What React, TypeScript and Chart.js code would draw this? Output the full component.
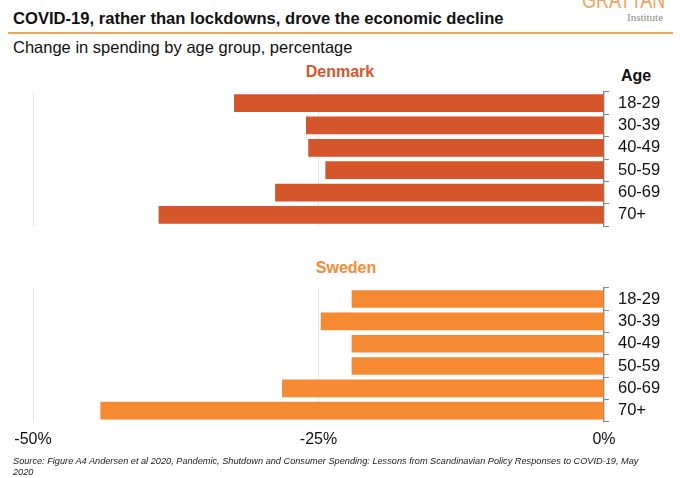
import React, { useEffect, useRef } from "react";
import { Chart, registerables } from "chart.js";

Chart.register(...registerables);

const ageGroups = ["18-29", "30-39", "40-49", "50-59", "60-69", "70+"];
const denmarkValues = [-32.4, -26.1, -25.9, -24.4, -28.8, -39.0];
const swedenValues = [-22.1, -24.8, -22.1, -22.1, -28.2, -44.1];
const xTickValues = [-50, -25, 0];

const DENMARK_COLOR = "#D4562A";
const SWEDEN_COLOR = "#F58A33";
const FONT = "Liberation Sans, Arial, sans-serif";

function makeConfig(color: string, values: number[], showX: boolean) {
  return {
    type: "bar",
    data: {
      labels: ageGroups,
      datasets: [
        {
          data: values,
          backgroundColor: color,
          borderWidth: 0,
          barPercentage: 0.79,
          categoryPercentage: 1,
        },
      ],
    },
    options: {
      indexAxis: "y",
      animation: false,
      responsive: false,
      maintainAspectRatio: false,
      layout: { padding: { left: 33, right: 0, top: 0, bottom: 0 } },
      plugins: {
        legend: { display: false },
        tooltip: { enabled: false },
        title: { display: false },
      },
      scales: {
        x: {
          min: -50,
          max: 0,
          afterBuildTicks: (scale: any) => {
            scale.ticks = xTickValues.map((v) => ({ value: v }));
          },
          afterFit: showX ? undefined : (scale: any) => { scale.height = 0; },
          border: { display: false },
          grid: {
            color: "#e6e6e6",
            lineWidth: 1,
            drawTicks: false,
          },
          ticks: {
            display: showX,
            color: "#111",
            padding: 8,
            font: { family: FONT, size: 16 },
            callback: (v: any) => `${v}%`,
            maxRotation: 0,
            autoSkip: false,
          },
        },
        y: {
          position: "right",
          afterFit: (scale: any) => { scale.width = 76; },
          border: { display: true, color: "#7d8696", width: 1.2 },
          grid: {
            offset: true,
            drawOnChartArea: false,
            drawTicks: true,
            tickLength: 5,
            color: "#7d8696",
          },
          ticks: {
            color: "#111",
            padding: 9,
            autoSkip: false,
            font: { family: FONT, size: 16.5 },
          },
        },
      },
    },
  } as any;
}

function BarPanel(props: { color: string; values: number[]; showX: boolean; width: number; height: number }) {
  const ref = useRef<HTMLCanvasElement | null>(null);
  useEffect(() => {
    if (!ref.current) return;
    const chart = new Chart(ref.current, makeConfig(props.color, props.values, props.showX));
    return () => chart.destroy();
  }, []);
  return <canvas ref={ref} width={props.width} height={props.height} style={{ width: props.width, height: props.height, display: "block" }} />;
}

export default function App() {
  return (
    <div style={{ position: "absolute", left: 0, top: 0, width: 680, height: 478, background: "#fff", overflow: "hidden", fontFamily: FONT }}>
      <div style={{ position: "absolute", left: 582, top: -12, fontSize: 24, color: "#F4A261", lineHeight: "24px", transform: "scaleX(0.75)", transformOrigin: "left top", whiteSpace: "nowrap" }}>GRATTAN</div>
      <div style={{ position: "absolute", left: 627, top: 11, fontSize: 11, color: "#8a8a8a", fontFamily: "Liberation Serif, serif" }}>Institute</div>
      <div style={{ position: "absolute", left: 13, top: 9, fontSize: 16.6, fontWeight: "bold", color: "#111" }}>COVID-19, rather than lockdowns, drove the economic decline</div>
      <div style={{ position: "absolute", left: 8, top: 32, width: 665, height: 2, background: "#F2A65A" }} />
      <div style={{ position: "absolute", left: 13, top: 38, fontSize: 16.5, color: "#111" }}>Change in spending by age group, percentage</div>
      <div style={{ position: "absolute", left: 240, width: 200, textAlign: "center", top: 63, fontSize: 16, fontWeight: "bold", color: DENMARK_COLOR }}>Denmark</div>
      <div style={{ position: "absolute", left: 621, top: 67, fontSize: 16, fontWeight: "bold", color: "#111" }}>Age</div>
      <div style={{ position: "absolute", left: 246, width: 200, textAlign: "center", top: 259, fontSize: 16, fontWeight: "bold", color: SWEDEN_COLOR }}>Sweden</div>
      <div style={{ position: "absolute", left: 0, top: 73 }}>
        <BarPanel color={DENMARK_COLOR} values={denmarkValues} showX={false} width={680} height={172} />
      </div>
      <div style={{ position: "absolute", left: 0, top: 269 }}>
        <BarPanel color={SWEDEN_COLOR} values={swedenValues} showX={true} width={680} height={188} />
      </div>
      <div style={{ position: "absolute", left: 13, top: 456, width: 640, fontSize: 9.2, fontStyle: "italic", color: "#222", lineHeight: "11px" }}>
        Source: Figure A4 Andersen et al 2020, Pandemic, Shutdown and Consumer Spending: Lessons from Scandinavian Policy Responses to COVID-19, May 2020
      </div>
    </div>
  );
}
